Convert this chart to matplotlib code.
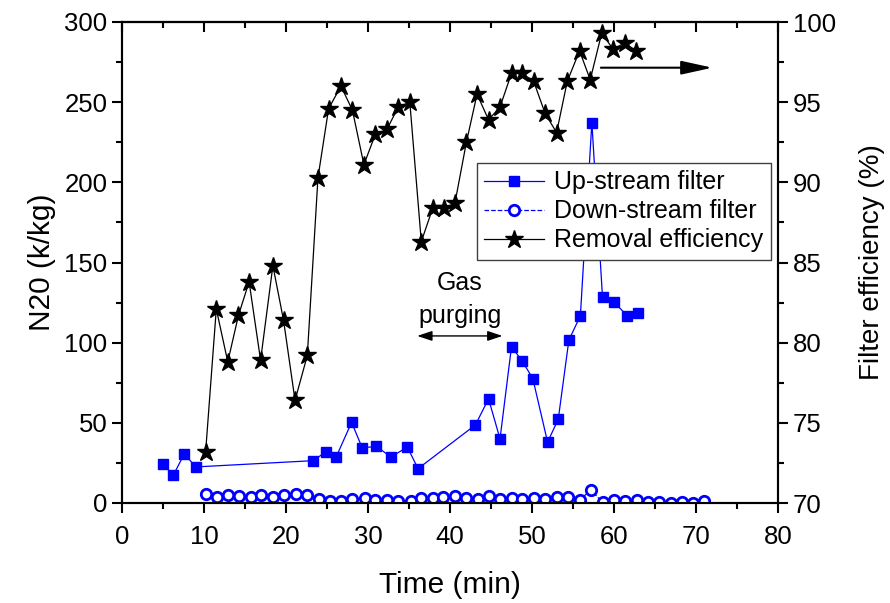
import matplotlib
matplotlib.use("Agg")
import matplotlib.pyplot as plt
from matplotlib.ticker import MultipleLocator

plt.rcParams['font.family'] = ['Liberation Sans', 'DejaVu Sans']

# ---- data ----
up_time = [4.97, 6.27, 7.6, 9.0, 23.3, 24.9, 26.1, 28.0, 29.3, 31.0, 32.8, 34.8, 36.1,
           43.1, 44.7, 46.1, 47.5, 48.8, 50.1, 51.9, 53.2, 54.5, 55.9, 57.3, 58.6,
           60.0, 61.6, 62.9]
up_n2o = [24.1, 17.5, 30.6, 22.5, 26.4, 32.0, 28.5, 50.3, 34.3, 35.4, 28.7, 34.9, 21.4,
          48.7, 65.0, 40.0, 97.5, 88.6, 77.6, 38.0, 52.2, 101.7, 116.7, 237.3, 128.3,
          125.2, 116.9, 118.3]

down_time = [10.2, 11.6, 12.9, 14.3, 15.7, 17.0, 18.4, 19.8, 21.2, 22.6, 24.0, 25.4,
             26.7, 28.1, 29.6, 30.9, 32.3, 33.7, 35.2, 36.5, 37.9, 39.2, 40.6, 42.0,
             43.4, 44.7, 46.1, 47.5, 48.8, 50.2, 51.6, 53.0, 54.4, 55.8, 57.2, 58.6,
             60.0, 61.4, 62.8, 64.1, 65.5, 66.9, 68.3, 69.6, 71.0]
down_n2o = [5.8, 3.7, 5.0, 4.2, 3.7, 5.2, 3.7, 5.0, 5.8, 5.2, 2.7, 1.0, 1.0, 2.5, 2.9,
            2.1, 1.7, 1.2, 1.5, 3.1, 3.3, 3.9, 4.4, 3.3, 2.3, 4.2, 2.3, 3.3, 2.7, 2.9,
            2.7, 3.5, 3.5, 1.9, 8.1, 0.4, 1.9, 1.2, 1.9, 0.8, 0.8, 0.2, 0.4, 0.2, 1.2]

eff_time = [10.2, 11.5, 12.9, 14.2, 15.5, 16.9, 18.4, 19.7, 21.1, 22.6, 23.9, 25.2,
            26.7, 28.1, 29.5, 30.9, 32.3, 33.7, 35.1, 36.5, 37.9, 39.3, 40.6, 42.0,
            43.3, 44.7, 46.1, 47.5, 48.8, 50.2, 51.6, 53.0, 54.3, 55.8, 57.1, 58.5,
            59.9, 61.3, 62.7]
eff_pct = [73.2, 82.1, 78.8, 81.7, 83.8, 78.9, 84.8, 81.4, 76.4, 79.2, 90.3, 94.6,
           96.0, 94.5, 91.1, 93.0, 93.3, 94.7, 95.0, 86.3, 88.4, 88.4, 88.7, 92.5,
           95.5, 93.9, 94.7, 96.8, 96.8, 96.3, 94.3, 93.1, 96.3, 98.2, 96.4, 99.3,
           98.3, 98.7, 98.2]

labels = ["Up-stream filter", "Down-stream filter", "Removal efficiency"]

# ---- figure ----
fig = plt.figure(figsize=(8.9, 6.03), dpi=100)
ax = fig.add_axes([122/890, 1-503/603, (778-122)/890, (503-22)/603])
ax2 = ax.twinx()

BLUE = '#0000ff'
l1, = ax.plot(up_time, up_n2o, '-', color=BLUE, lw=0.9, marker='s', ms=7.5,
              mfc=BLUE, mec=BLUE, label=labels[0], zorder=3)
l2, = ax.plot(down_time, down_n2o, '--', color=BLUE, lw=0.9, marker='o', ms=7.5,
              mfc='white', mec=BLUE, mew=2.0, label=labels[1], zorder=3)
l3, = ax2.plot(eff_time, eff_pct, '-', color='black', lw=0.9, marker='*', ms=13.5,
               mfc='black', mec='black', label=labels[2], zorder=3)

ax.set_xlim(0, 80)
ax.set_ylim(0, 300)
ax2.set_ylim(70, 100)

FS_TICK = 18.5

ax.xaxis.set_major_locator(MultipleLocator(10))
ax.xaxis.set_minor_locator(MultipleLocator(5))
ax.yaxis.set_major_locator(MultipleLocator(50))
ax.yaxis.set_minor_locator(MultipleLocator(25))
ax2.yaxis.set_major_locator(MultipleLocator(5))
ax2.yaxis.set_minor_locator(MultipleLocator(2.5))

for a in (ax, ax2):
    for s in a.spines.values():
        s.set_linewidth(1.5)

ax.tick_params(axis='both', which='major', direction='out', length=7, width=1.5,
               labelsize=FS_TICK, top=False, right=False)
ax.tick_params(axis='x', which='major', pad=9)
ax.tick_params(axis='both', which='minor', direction='out', length=4, width=1.5,
               top=False, right=False)
ax2.tick_params(axis='y', which='major', direction='out', length=7, width=1.5,
                labelsize=FS_TICK)
ax2.tick_params(axis='y', which='minor', direction='out', length=4, width=1.5)

# top ticks pointing inward
top = ax.secondary_xaxis('top')
top.xaxis.set_major_locator(MultipleLocator(10))
top.xaxis.set_minor_locator(MultipleLocator(5))
top.tick_params(which='major', direction='in', length=7, width=1.5, labeltop=False)
top.tick_params(which='minor', direction='in', length=4, width=1.5)
top.spines['top'].set_linewidth(1.5)

ax.set_xlabel("Time (min)", fontsize=21.5, labelpad=16)
ax.set_ylabel("N20 (k/kg)", fontsize=21.5, labelpad=6)
ax2.set_ylabel("Filter efficiency (%)", fontsize=20, labelpad=17)

# arrows and annotation
ax.annotate('', xy=(72.0, 271.5), xytext=(58.4, 271.5),
            arrowprops=dict(arrowstyle='-|>,head_length=1.0,head_width=0.22',
                            mutation_scale=19, lw=1.5, color='black',
                            shrinkA=0, shrinkB=0))
ax.annotate('', xy=(36.0, 104.2), xytext=(46.4, 104.2),
            arrowprops=dict(arrowstyle='<|-|>,head_length=0.9,head_width=0.3',
                            mutation_scale=10, lw=1.0, color='black',
                            shrinkA=0, shrinkB=0))
ax.text(41.2, 137, "Gas", ha='center', va='center', fontsize=18)
ax.text(41.2, 116.5, "purging", ha='center', va='center', fontsize=18)

leg = ax2.legend([l1, l2, l3], labels, loc='upper left',
                 bbox_to_anchor=(477/890, 1-163/603), bbox_transform=fig.transFigure,
                 fontsize=18, frameon=True, fancybox=False, framealpha=1,
                 edgecolor='#404040', borderaxespad=0, handlelength=2.4,
                 handletextpad=0.4, labelspacing=0.2, borderpad=0.3)
leg.get_frame().set_linewidth(1.0)

fig.savefig("out.png", dpi=100)
